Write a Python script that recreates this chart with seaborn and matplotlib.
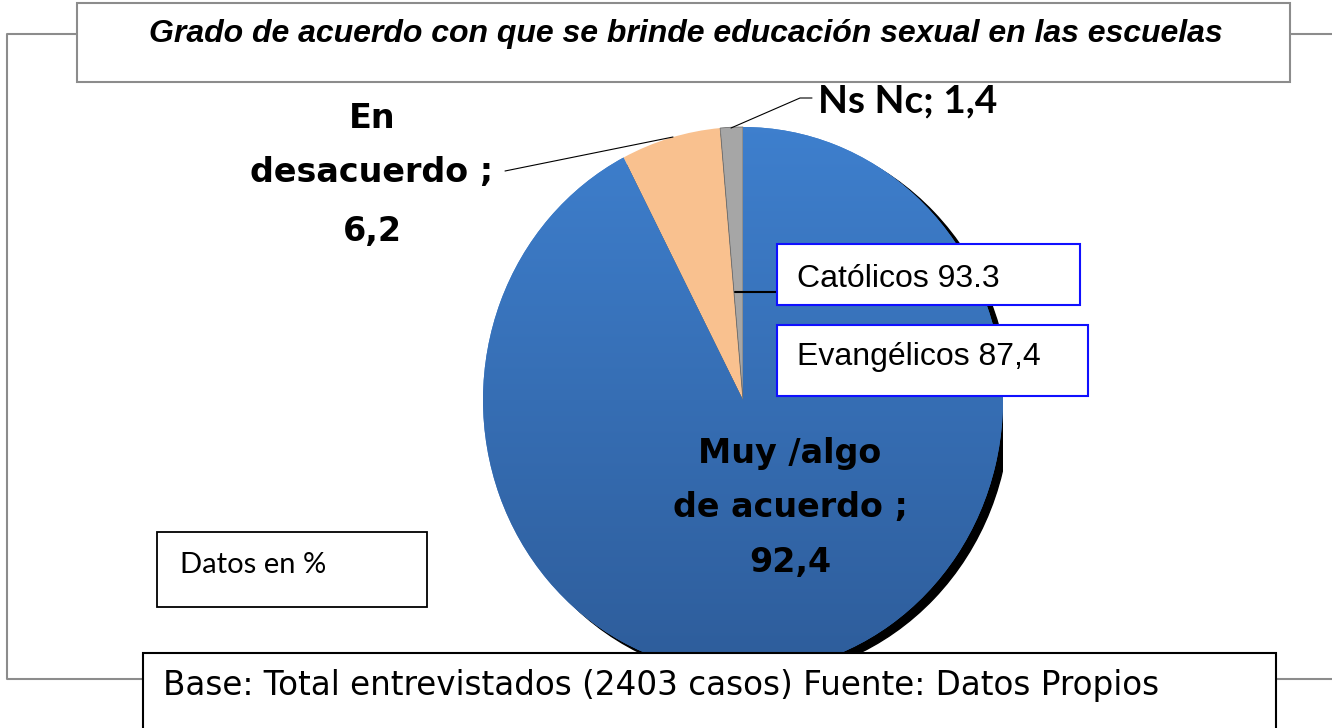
import numpy as np
import matplotlib
matplotlib.use("Agg")
import matplotlib.pyplot as plt
import seaborn as sns
from matplotlib.patches import Rectangle, Ellipse
from matplotlib.colors import LinearSegmentedColormap

# Data
categories = ["Muy /algo\nde acuerdo ;\n92,4", "En\ndesacuerdo ;\n6,2", "Ns Nc; 1,4"]
values = [92.4, 6.2, 1.4]
slice_colors = ["#3b7bc9", "#f9c18f", "#a6a6a6"]
title = "Grado de acuerdo con que se brinde educación sexual en las escuelas"
religion_labels = ["Católicos 93.3", "Evangélicos 87,4"]
note = "Datos en %"
source = "Base: Total entrevistados (2403 casos) Fuente: Datos Propios"

sns.set_theme(style="white")
plt.rcParams["font.family"] = ["Liberation Sans", "DejaVu Sans"]
plt.rcParams["text.color"] = "black"

W, H = 1332, 728
fig = plt.figure(figsize=(W / 100, H / 100), dpi=100)
fig.patch.set_facecolor("white")

# --- pie axes (slightly elliptical like the Excel original) ---
pie_left, pie_top, pie_right, pie_bottom = 483, 127, 1003, 673
ax_pie = fig.add_axes([pie_left / W, (H - pie_bottom) / H,
                       (pie_right - pie_left) / W, (pie_bottom - pie_top) / H])
ax_pie.add_patch(Ellipse((0.027, -0.02), 2, 2, color="black", zorder=0))
wedges, _ = ax_pie.pie(values, colors=slice_colors, startangle=90, counterclock=False,
                       radius=1, wedgeprops=dict(linewidth=0))
for w in wedges:
    w.set_zorder(1)
wedges[2].set_edgecolor("#707070")
wedges[2].set_linewidth(0.6)

# vertical gradient on the big blue slice
grad = np.linspace(0, 1, 256).reshape(-1, 1)
cmap = LinearSegmentedColormap.from_list("blu", ["#3f81d0", "#2d5b98"])
img = ax_pie.imshow(grad, cmap=cmap, extent=(-1.1, 1.1, -1.1, 1.1), origin="upper",
                    aspect="auto", zorder=2)
img.set_clip_path(wedges[0])
ax_pie.set_xlim(-1, 1)
ax_pie.set_ylim(-1, 1)
ax_pie.set_aspect("auto")
ax_pie.axis("off")

# --- overlay axes in pixel coordinates ---
ax = fig.add_axes([0, 0, 1, 1], zorder=5)
ax.set_xlim(0, W)
ax.set_ylim(H, 0)
ax.axis("off")
ax.patch.set_alpha(0)

# outer frame
ax.plot([W + 5, 7, 7, W + 5], [34, 34, 679, 679], color="#8c8c8c", lw=1.5, zorder=1)

# title box
ax.add_patch(Rectangle((77, 3), 1213, 79, facecolor="white", edgecolor="#8c8c8c", lw=1.5, zorder=2))
ax.text(686, 42, title, ha="center", va="baseline", fontsize=23,
        fontweight="bold", fontstyle="italic", zorder=3)

# slice labels
wide_font = ["DejaVu Sans"]
muy, des, ns = categories
for i, line in enumerate(des.split("\n")):
    ax.text(372, [128, 182, 241][i], line, ha="center", va="baseline", fontsize=24,
            fontweight="bold", family=wide_font, zorder=3)
for i, line in enumerate(muy.split("\n")):
    ax.text(790, [463, 517, 572][i], line, ha="center", va="baseline", fontsize=24,
            fontweight="bold", family=wide_font, zorder=3)
ax.text(818, 112, ns, ha="left", va="baseline", fontsize=28,
        fontweight="bold", family=["Lato", "DejaVu Sans"], zorder=3)

# leader lines
ax.plot([505, 673], [171, 137], color="black", lw=0.8, zorder=3)
ax.plot([731, 800, 812], [128, 98, 98], color="black", lw=0.8, zorder=3)
ax.plot([735, 777], [292, 292], color="black", lw=1.5, zorder=3)

# religion boxes
for (x0, y0, x1, y1), txt, base in zip([(777, 244, 1080, 305), (777, 325, 1088, 396)],
                                       religion_labels, [287, 365]):
    ax.add_patch(Rectangle((x0, y0), x1 - x0, y1 - y0, facecolor="white",
                           edgecolor="#1010ff", lw=1.5, zorder=3))
    ax.text(797, base, txt, ha="left", va="baseline", fontsize=23, zorder=4)

# note box
ax.add_patch(Rectangle((157, 532), 270, 75, facecolor="white", edgecolor="black", lw=1.3, zorder=3))
ax.text(180, 573, note, ha="left", va="baseline", fontsize=21,
        family=["Lato", "DejaVu Sans"], zorder=4)

# source box
ax.add_patch(Rectangle((143, 653), 1133, 100, facecolor="white", edgecolor="black", lw=1.5, zorder=3))
ax.text(163, 695, source, ha="left", va="baseline", fontsize=23.5,
        family=["DejaVu Sans"], zorder=4)

fig.savefig("out.png", dpi=100, facecolor="white")
